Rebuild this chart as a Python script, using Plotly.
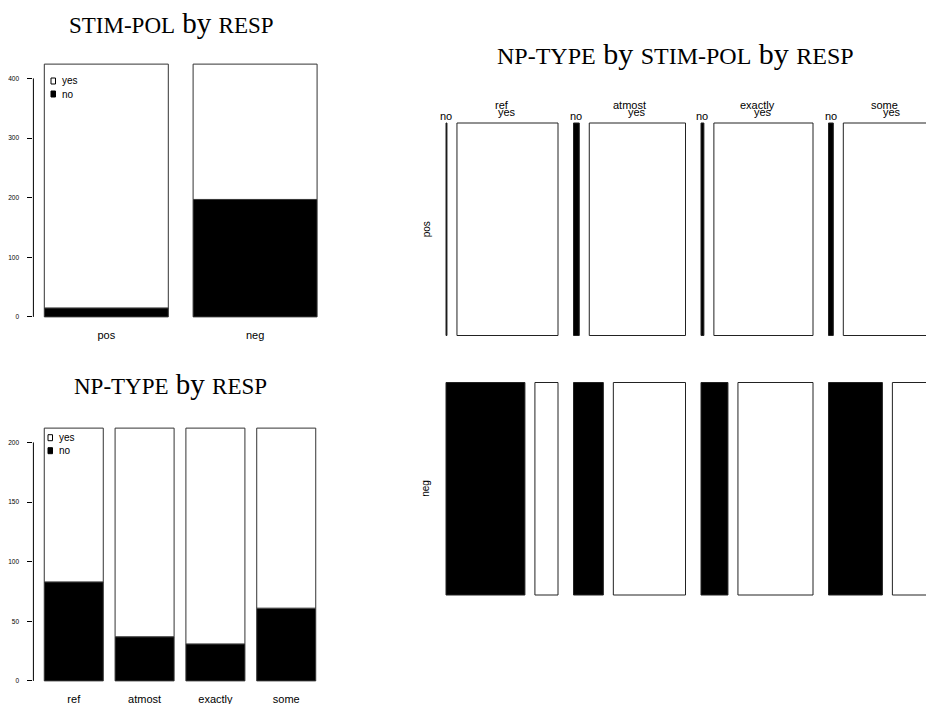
import plotly.graph_objects as go

# ---------------- data ----------------
np_types = ["ref", "atmost", "exactly", "some"]
pol_levels = ["pos", "neg"]
resp_levels = ["yes", "no"]

# counts of NP-TYPE x STIM-POL x RESP
no_pos = [1, 6, 3, 5]
yes_pos = [105, 100, 103, 101]
no_neg = [82, 31, 28, 56]
yes_neg = [24, 75, 78, 50]

pol_ticks = [0, 100, 200, 300, 400]
np_ticks = [0, 50, 100, 150, 200]

# ---------------- derived tables ----------------
pol_no = [sum(no_pos), sum(no_neg)]
pol_yes = [sum(yes_pos), sum(yes_neg)]
np_no = [a + b for a, b in zip(no_pos, no_neg)]
np_yes = [a + b for a, b in zip(yes_pos, yes_neg)]

OFF = 8            # the page body margin offsets the figure
W, H = 934 - OFF, 704 - OFF
SANS = "Liberation Sans"
SERIF = "Liberation Serif"


def px_x(p):
    return (p - OFF) / W


def px_y(p):
    return 1 - (p - OFF) / H


fig = go.Figure()
shapes = []
annotations = []


def barplot(cats, no, yes, xa, ya, xdom_px, ydom_px, ticks, legend_px):
    n = len(cats)
    centers = [0.7 + 1.2 * i for i in range(n)]
    totals = [a + b for a, b in zip(no, yes)]
    ymax = max(totals)
    fig.add_trace(go.Bar(x=centers, y=no, base=[0] * n, width=1,
                         marker=dict(color="black", line=dict(color="#333", width=1)),
                         xaxis=xa, yaxis=ya, showlegend=False, hoverinfo="skip"))
    fig.add_trace(go.Bar(x=centers, y=yes, base=no, width=1,
                         marker=dict(color="white", line=dict(color="#333", width=1)),
                         xaxis=xa, yaxis=ya, showlegend=False, hoverinfo="skip"))
    xl, xr = 0.2, 0.2 + 1.2 * n - 0.2
    ext = 0.04 * (xr - xl)
    xk = "xaxis" + xa[1:]
    yk = "yaxis" + ya[1:]
    fig.layout[xk] = dict(domain=[px_x(xdom_px[0]), px_x(xdom_px[1])],
                          range=[xl - ext, xr + ext], anchor=ya,
                          tickvals=centers, ticktext=cats, ticks="", ticklen=0,
                          showline=False, showgrid=False, zeroline=False,
                          tickfont=dict(family=SANS, size=11, color="black"),
                          ticklabelstandoff=0, fixedrange=True)
    fig.layout[yk] = dict(domain=[px_y(ydom_px[1]), px_y(ydom_px[0])],
                          range=[-0.04 * ymax, 1.04 * ymax], anchor=xa,
                          tickvals=ticks, ticks="outside", ticklen=5,
                          tickwidth=1, tickcolor="black",
                          showline=False, showgrid=False, zeroline=False,
                          tickfont=dict(family=SANS, size=6.5, color="black"),
                          ticklabelstandoff=7, fixedrange=True)
    shapes.append(dict(type="line", xref=xa + " domain", yref=ya,
                       x0=0, x1=0, y0=ticks[0], y1=ticks[-1],
                       line=dict(color="black", width=1)))
    # legend
    bx, by_yes, by_no, tx = legend_px
    for lab, yc, fill in [(resp_levels[0], by_yes, "white"), (resp_levels[1], by_no, "black")]:
        shapes.append(dict(type="rect", xref="paper", yref="paper",
                           x0=px_x(bx), x1=px_x(bx + 4.5),
                           y0=px_y(yc + 3), y1=px_y(yc - 3),
                           fillcolor=fill, line=dict(color="black", width=1)))
        annotations.append(dict(xref="paper", yref="paper", x=px_x(tx), y=px_y(yc),
                                xanchor="left", yanchor="middle", showarrow=False,
                                text=lab, font=dict(family=SANS, size=10, color="black")))


barplot(pol_levels, pol_no, pol_yes, "x", "y", (33.4, 328.0), (54.0, 327.0),
        pol_ticks, (51.0, 81.0, 94.0, 60.0))
barplot(np_types, np_no, np_yes, "x2", "y2", (33.4, 326.6), (418.0, 691.0),
        np_ticks, (48.0, 437.7, 450.7, 56.5))

# ---------------- mosaic plot ----------------
content_w = 448.0
content_h = 425.0
gap_col = 15.5
gap_cell = 10.0
gap_row = 47.0

cells = {"pos": (no_pos, yes_pos), "neg": (no_neg, yes_neg)}
np_tot = [no_pos[i] + yes_pos[i] + no_neg[i] + yes_neg[i] for i in range(4)]
grand = sum(np_tot)

rects = {"no": [], "yes": []}  # (x0, w, y0, h)
col_info = []
x0 = 0.0
for i in range(4):
    cw = content_w * np_tot[i] / grand
    n_pos = no_pos[i] + yes_pos[i]
    n_neg = no_neg[i] + yes_neg[i]
    h_neg = content_h * n_neg / np_tot[i]
    h_pos = content_h * n_pos / np_tot[i]
    rows = {"neg": (0.0, h_neg), "pos": (h_neg + gap_row, h_pos)}
    sub = {}
    for pol in pol_levels:
        nos, yess = cells[pol]
        nij = nos[i] + yess[i]
        inner = cw - gap_cell
        w_no = inner * nos[i] / nij
        w_yes = inner * yess[i] / nij
        y0, hh = rows[pol]
        rects["no"].append((x0, w_no, y0, hh))
        rects["yes"].append((x0 + w_no + gap_cell, w_yes, y0, hh))
        sub[pol] = (x0 + w_no / 2, x0 + w_no + gap_cell + w_yes / 2)
    col_info.append((x0 + cw / 2, sub["pos"], rows))
    x0 += cw + gap_col

for key, fill in [("no", "black"), ("yes", "white")]:
    rr = rects[key]
    fig.add_trace(go.Bar(x=[r[0] + r[1] / 2 for r in rr], width=[r[1] for r in rr],
                         base=[r[2] for r in rr], y=[r[3] for r in rr],
                         marker=dict(color=fill, line=dict(color="#222", width=1)),
                         xaxis="x3", yaxis="y3", showlegend=False, hoverinfo="skip"))

fig.layout.xaxis3 = dict(domain=[px_x(440), 1.0], range=[-6, 488], anchor="y3",
                         visible=False, fixedrange=True)
fig.layout.yaxis3 = dict(domain=[px_y(596), px_y(122)], range=[-1, 473], anchor="x3",
                         visible=False, fixedrange=True)

lab_font = dict(family=SANS, size=11, color="black")
for i, (cx, (cno, cyes), rows) in enumerate(col_info):
    annotations.append(dict(xref="x3", yref="paper", x=cx, y=px_y(104.5), text=np_types[i],
                            showarrow=False, xanchor="center", yanchor="middle", font=lab_font))
    annotations.append(dict(xref="x3", yref="paper", x=cyes, y=px_y(112), text=resp_levels[0],
                            showarrow=False, xanchor="center", yanchor="middle", font=lab_font))
    annotations.append(dict(xref="x3", yref="paper", x=cno, y=px_y(116), text=resp_levels[1],
                            showarrow=False, xanchor="center", yanchor="middle", font=lab_font))
rows0 = col_info[0][2]
for pol in pol_levels:
    y0, hh = rows0[pol]
    annotations.append(dict(xref="paper", yref="y3", x=px_x(426), y=y0 + hh / 2, text=pol,
                            textangle=-90, showarrow=False, xanchor="center", yanchor="middle",
                            font=dict(family=SANS, size=10, color="black")))


# ---------------- titles ----------------
def sc(word, size):
    return '<span style="font-size:%dpx">%s</span>' % (size, word)


titles = [
    (sc("STIM-POL", 23) + " by " + sc("RESP", 23), 29, 171, 23),
    (sc("NP-TYPE", 23) + " by " + sc("RESP", 23), 29, 170, 384),
    (sc("NP-TYPE", 24) + " by " + sc("STIM-POL", 24) + " by " + sc("RESP", 24), 30, 675.5, 53),
]
for txt, fs, cx, cy in titles:
    annotations.append(dict(xref="paper", yref="paper", x=px_x(cx), y=px_y(cy), text=txt,
                            showarrow=False, xanchor="center", yanchor="middle",
                            font=dict(family=SERIF, size=fs, color="black")))

fig.update_layout(width=W, height=H, autosize=False,
                  margin=dict(l=0, r=0, t=0, b=0),
                  paper_bgcolor="white", plot_bgcolor="white",
                  barmode="overlay", shapes=shapes, annotations=annotations)

fig.write_html("out.html")
